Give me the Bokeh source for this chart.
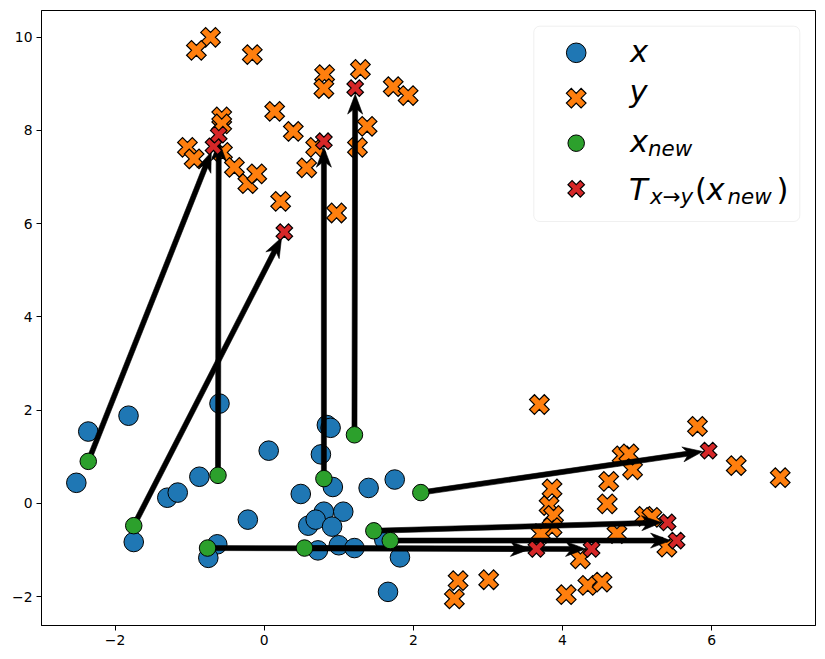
import math

from bokeh.plotting import figure
from bokeh.models import Range1d, Label, BoxAnnotation, CustomJSTickFormatter, FixedTicker
from bokeh.embed import file_html
from bokeh.resources import INLINE

# Source sample x
x_src_x = [-2.36, -1.82, -2.52, -0.60, -1.30, -1.16, -0.87, 0.06, -1.75, -0.63,
           -0.75, -0.22, 0.49, 0.84, 0.89, 0.76, 0.92, 1.40, 1.75, 0.80,
           1.06, 0.59, 0.69, 0.91, 0.72, 1.00, 1.21, 1.61, 1.82, 1.66]
x_src_y = [1.54, 1.88, 0.44, 2.14, 0.12, 0.23, 0.57, 1.13, -0.83, -0.88,
           -1.17, -0.35, 0.20, 1.68, 1.62, 1.05, 0.35, 0.33, 0.51, -0.18,
           -0.18, -0.48, -0.35, -0.50, -1.01, -0.90, -0.96, -0.78, -1.16, -1.90]

# Target sample y
y_tgt_x = [-0.72, -0.91, -0.16, 0.81, 0.80, 1.29, 1.73, 1.93, 0.14, 0.39,
           -0.57, -0.57, -1.03, -0.94, -0.56, -0.40, -0.22, -0.10, 1.38, 1.25,
           0.69, 0.57, 0.22, 0.97,
           3.69, 5.81, 6.33, 6.92, 4.80, 4.89, 4.94, 4.62, 4.60, 3.86,
           3.82, 3.88, 3.86, 3.71, 5.10, 5.20, 4.73, 5.40, 4.24, 2.60,
           2.55, 3.01, 4.05, 4.34, 4.53]
y_tgt_y = [10.00, 9.72, 9.63, 9.20, 8.90, 9.31, 8.94, 8.75, 8.41, 7.98,
           8.29, 8.14, 7.64, 7.39, 7.53, 7.21, 6.86, 7.07, 8.09, 7.64,
           7.64, 7.20, 6.48, 6.23,
           2.12, 1.65, 0.81, 0.55, 1.02, 1.06, 0.72, 0.47, -0.01, 0.31,
           -0.05, -0.26, -0.52, -0.65, -0.28, -0.30, -0.65, -0.94, -1.19, -1.66,
           -2.05, -1.64, -1.96, -1.76, -1.69]

# New source points and their transported images
x_new_x = [-2.36, -1.75, -0.62, 0.80, 1.21, 2.10, 1.47, 1.69, -0.76, 0.54]
x_new_y = [0.90, -0.48, 0.60, 0.53, 1.47, 0.23, -0.59, -0.80, -0.96, -0.96]
t_x = [-0.68, 0.27, -0.61, 0.80, 1.22, 5.96, 5.41, 5.53, 4.39, 3.65]
t_y = [7.66, 5.82, 7.91, 7.77, 8.91, 1.13, -0.41, -0.80, -0.98, -0.98]

x_ticks = [-2, 0, 2, 4, 6]
y_ticks = [-2, 0, 2, 4, 6, 8, 10]

BLUE, ORANGE, GREEN, RED = "#1f77b4", "#ff7f0e", "#2ca02c", "#d62728"

X0, X1 = -2.987, 7.393
Y0, Y1 = -2.622, 10.575
FW, FH = 774, 615
BL, BT, BR, BB = 41, 10, 10, 34

p = figure(frame_width=FW, frame_height=FH,
           x_range=Range1d(X0, X1), y_range=Range1d(Y0, Y1),
           output_backend="svg", toolbar_location=None,
           min_border_left=BL, min_border_right=BR,
           min_border_top=BT, min_border_bottom=BB)
p.background_fill_color = "white"
p.border_fill_color = "white"
p.outline_line_color = "black"
p.outline_line_width = 1
p.xgrid.visible = False
p.ygrid.visible = False

p.xaxis.ticker = FixedTicker(ticks=x_ticks)
p.yaxis.ticker = FixedTicker(ticks=y_ticks)
fmt = "return (tick < 0 ? '\u2212' : '') + Math.abs(tick);"
for ax in (p.xaxis[0], p.yaxis[0]):
    ax.formatter = CustomJSTickFormatter(code=fmt)
    ax.axis_line_color = "black"
    ax.major_tick_line_color = "black"
    ax.major_tick_out = 5
    ax.major_tick_in = 0
    ax.minor_tick_out = 0
    ax.minor_tick_in = 0
    ax.major_label_text_font = "DejaVu Sans"
    ax.major_label_text_font_size = "13.9px"
    ax.major_label_text_color = "black"
    ax.major_label_standoff = 4

# pixels per data unit
SX = FW / (X1 - X0)
SY = FH / (Y1 - Y0)


def px_x(px):
    return X0 + (px - BL) / SX


def px_y(py):
    return Y1 - (py - BT) / SY


# outline of a filled "X" marker on the unit square
X_SHAPE = [(0.25, 0), (0.5, 0.25), (0.75, 0), (1, 0.25), (0.75, 0.5), (1, 0.75),
           (0.75, 1), (0.5, 0.75), (0.25, 1), (0, 0.75), (0.25, 0.5), (0, 0.25)]


def filled_x(xs, ys, color, span):
    """Filled X markers of `span` pixels, drawn as patches in data space."""
    pxs, pys = [], []
    for xv, yv in zip(xs, ys):
        pxs.append([xv + (a - 0.5) * span / SX for a, _ in X_SHAPE])
        pys.append([yv + (b - 0.5) * span / SY for _, b in X_SHAPE])
    return p.patches(pxs, pys, fill_color=color, line_color="black",
                     line_width=1.2, line_join="miter")


# x samples
p.scatter(x_src_x, x_src_y, marker="circle", size=19.6, fill_color=BLUE,
          line_color="black", line_width=1)

# y samples
filled_x(y_tgt_x, y_tgt_y, ORANGE, 19.6)

# displacement arrows x_new -> T(x_new)
SHAFT, HEAD_L, HEAD_AX, HEAD_W, SHRINK = 2.5, 20.0, 16.0, 7.5, 6.0
arrow_xs, arrow_ys = [], []
for xs0, ys0, xe, ye in zip(x_new_x, x_new_y, t_x, t_y):
    dx = (xe - xs0) * SX
    dy = (ye - ys0) * SY
    L = math.hypot(dx, dy)
    ux, uy = dx / L, dy / L
    nx, ny = -uy, ux
    Le = L - SHRINK
    pts = [
        (nx * SHAFT, ny * SHAFT),
        (ux * (Le - HEAD_AX) + nx * SHAFT, uy * (Le - HEAD_AX) + ny * SHAFT),
        (ux * (Le - HEAD_L) + nx * HEAD_W, uy * (Le - HEAD_L) + ny * HEAD_W),
        (ux * Le, uy * Le),
        (ux * (Le - HEAD_L) - nx * HEAD_W, uy * (Le - HEAD_L) - ny * HEAD_W),
        (ux * (Le - HEAD_AX) - nx * SHAFT, uy * (Le - HEAD_AX) - ny * SHAFT),
        (-nx * SHAFT, -ny * SHAFT),
    ]
    arrow_xs.append([xs0 + a / SX for a, _ in pts])
    arrow_ys.append([ys0 + b / SY for _, b in pts])
p.patches(arrow_xs, arrow_ys, fill_color="black", line_color="black", line_width=0.6)

# new points and their images
p.scatter(x_new_x, x_new_y, marker="circle", size=16.5, fill_color=GREEN,
          line_color="black", line_width=1)
filled_x(t_x, t_y, RED, 16.5)

# legend frame
p.add_layout(BoxAnnotation(left=px_x(533.3), right=px_x(799.3),
                           top=px_y(25.7), bottom=px_y(221),
                           fill_color="white", fill_alpha=0.8,
                           line_color="#cccccc", line_width=1,
                           border_radius=6, level="underlay"))

mx = px_x(575.7)
p.scatter([mx], [px_y(52.3)], marker="circle", size=19.6, fill_color=BLUE,
          line_color="black", line_width=1)
filled_x([mx], [px_y(97.7)], ORANGE, 19.6)
p.scatter([mx], [px_y(142.7)], marker="circle", size=16.5, fill_color=GREEN,
          line_color="black", line_width=1)
filled_x([mx], [px_y(188.3)], RED, 16.5)

MAIN, SUB = 30.6, 21.4
LIFT = 0.33  # baseline correction, in em


def txt(px, py, s, size, italic=True):
    p.add_layout(Label(x=px_x(px), y=px_y(py - LIFT * size), text=s,
                       text_font="DejaVu Sans", text_font_size=f"{size}px",
                       text_font_style="italic" if italic else "normal",
                       text_color="black", text_baseline="alphabetic",
                       text_align="left"))


txt(629.5, 61, "x", MAIN)
txt(629, 101, "y", MAIN)
txt(629.5, 151.5, "x", MAIN)
txt(647.5, 155, "new", SUB)
txt(628.5, 199, "T", MAIN)
txt(649.5, 203.5, "x", SUB)
txt(662, 203.5, "\u2192", SUB, italic=False)
txt(680, 203.5, "y", SUB)
txt(694.5, 199, "(", MAIN, italic=False)
txt(706, 199, "x", MAIN)
txt(727, 203.5, "new", SUB)
txt(776, 199, ")", MAIN, italic=False)

open("out.html", "w").write(file_html(p, INLINE))
